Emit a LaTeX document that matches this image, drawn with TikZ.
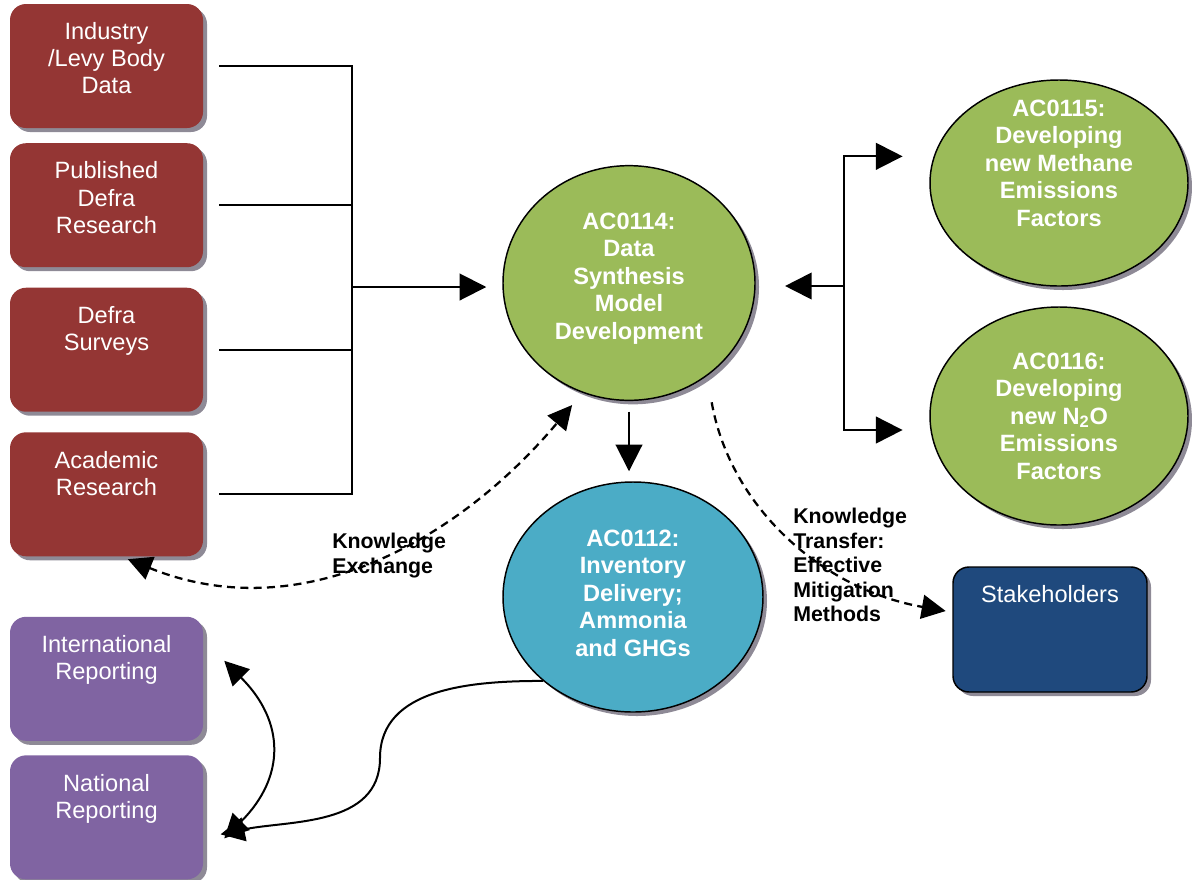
\documentclass[tikz,border=0pt]{standalone}
\usepackage{fontspec}
\setmainfont{Liberation Sans}
\usetikzlibrary{arrows.meta,positioning,shapes.geometric,shadows}
\definecolor{levy}{HTML}{943634}
\definecolor{report}{HTML}{8064A2}
\definecolor{model}{HTML}{9BBB59}
\definecolor{inventory}{HTML}{4BACC6}
\definecolor{stake}{HTML}{1F497D}
\definecolor{shade}{HTML}{8E8A96}
\tikzset{
  >=Latex,
  every node/.style={font=\fontsize{17.7}{20.3}\selectfont},
  box/.style={rectangle,rounded corners=12pt,minimum width=144.75pt,minimum height=93pt,
    inner sep=0pt,fill=levy,drop shadow={shadow xshift=3pt,shadow yshift=-3pt,fill=shade,opacity=1}},
  repbox/.style={box,fill=report},
  stakebox/.style={box,fill=stake,draw=black,line width=1.1pt,minimum width=145.5pt,minimum height=93.75pt},
  btxt/.style={anchor=north,yshift=-14pt,inner sep=0pt,text=white,align=center,
    font=\fontsize{17.7}{20.3}\selectfont},
  ell/.style={ellipse,draw=black,line width=1.1pt,fill=model,inner sep=0pt,
    drop shadow={shadow xshift=3pt,shadow yshift=-3pt,fill=shade,opacity=1}},
  invell/.style={ell,fill=inventory},
  etxt/.style={inner sep=0pt,text=white,align=center,font=\fontsize{17.7}{20.6}\selectfont\bfseries},
  note/.style={anchor=north west,inner sep=0pt,align=left,font=\fontsize{16}{18.4}\selectfont\bfseries},
  link/.style={line width=1.5pt},
  arrowline/.style={link,-{Triangle[length=20pt,width=20pt]}},
  dlink/.style={line width=1.7pt,dash pattern=on 6pt off 4pt},
}

\begin{document}
\begin{tikzpicture}[x=0.75pt,y=-0.75pt]
\useasboundingbox (0,0) rectangle (1192,879);

% data sources
\node[box,label={[btxt]north:{Industry\\/Levy Body\\Data}}] (industry) at (106.5,66) {};
\node[box,below=11pt of industry,label={[btxt]north:{Published\\Defra\\Research}}] (published) {};
\node[box,below=15pt of published,label={[btxt]north:{Defra\\Surveys}}] (surveys) {};
\node[box,below=15pt of surveys,label={[btxt]north:{Academic\\Research}}] (academic) {};

% reporting
\node[repbox,below=45pt of academic,label={[btxt]north:{International\\Reporting}}] (international) {};
\node[repbox,below=10.5pt of international,label={[btxt]north:{National\\Reporting}}] (national) {};

% projects
\node[ell,minimum width=189pt,minimum height=176pt,
  label={[etxt,yshift=3.4pt]center:{AC0114:\\Data\\Synthesis\\Model\\Development}}] (ac0114) at (629,283) {};
\node[invell,minimum width=195pt,minimum height=172.5pt,
  label={[etxt,yshift=3pt]center:{AC0112:\\Inventory\\Delivery;\\Ammonia\\and GHGs}}] (ac0112) at (633,597) {};
\node[ell,minimum width=193.5pt,minimum height=154.5pt,
  label={[etxt,yshift=15pt]center:{AC0115:\\Developing\\new Methane\\Emissions\\Factors}}] (ac0115) at (1059,183) {};
\node[ell,minimum width=193.5pt,minimum height=163.5pt,
  label={[etxt]center:{AC0116:\\Developing\\new N\textsubscript{2}O\\Emissions\\Factors}}] (ac0116) at (1059,416) {};

\node[stakebox,label={[btxt]north:{Stakeholders}}] (stakeholders) at (1050,629.5) {};

% sources into AC0114
\coordinate (merge) at (352,287);
\draw[link] ([xshift=12pt]industry.east) -| (merge);
\draw[link] ([xshift=12pt]published.east) -- (published.east -| merge);
\draw[link] ([xshift=12pt]surveys.east) -- (surveys.east -| merge);
\draw[link] ([xshift=12pt]academic.east) -| (merge);
\draw[arrowline,shorten >=12pt] (merge) -- (merge -| ac0114.west);

% AC0114 <-> AC0115 / AC0116
\coordinate (split) at (844,286);
\draw[arrowline,shorten >=22pt] (split) -- (split -| ac0114.east);
\draw[arrowline,shorten >=20pt] (split) |- ([yshift=20pt]ac0115.west);
\draw[arrowline,shorten >=20pt] (split) |- ([yshift=-10.5pt]ac0116.west);

% AC0114 to AC0112
\draw[arrowline,shorten <=8pt,shorten >=7.5pt] (ac0114.south) -- (ac0114.south |- ac0112.north);

% knowledge exchange / transfer
\draw[dlink,{Triangle[length=18pt,width=18pt]}-{Triangle[length=18pt,width=18pt]},shorten >=12pt]
  ([xshift=16pt,yshift=-2pt]academic.south) to[out=-22,in=-130] (ac0114.-113);
\node[note] (kexchange) at (332,533) {Knowledge\\Exchange};

\draw[dlink,-{Triangle[length=18pt,width=18pt]},shorten <=20pt,shorten >=5pt]
  (ac0114.-50) to[out=-80,in=170] ([yshift=13pt]stakeholders.west);
\node[note] (ktransfer) at (793,508) {Knowledge\\Transfer:\\Effective\\Mitigation\\Methods};

% AC0112 to reporting
\coordinate (bend) at (380,758);
\draw[arrowline,-{Triangle[length=18pt,width=18pt]}] (ac0112.-137) to[out=180,in=90] (bend)
  to[out=-90,in=12] ([xshift=13pt,yshift=-12.75pt]national.east);
\draw[link,{Triangle[length=18pt,width=18pt]}-{Triangle[length=18pt,width=18pt]}]
  ([xshift=15.75pt,yshift=13.5pt]international.east) to[out=-45,in=45,looseness=1.25]
  ([xshift=15.75pt,yshift=-15.75pt]national.east);

\end{tikzpicture}
\end{document}
